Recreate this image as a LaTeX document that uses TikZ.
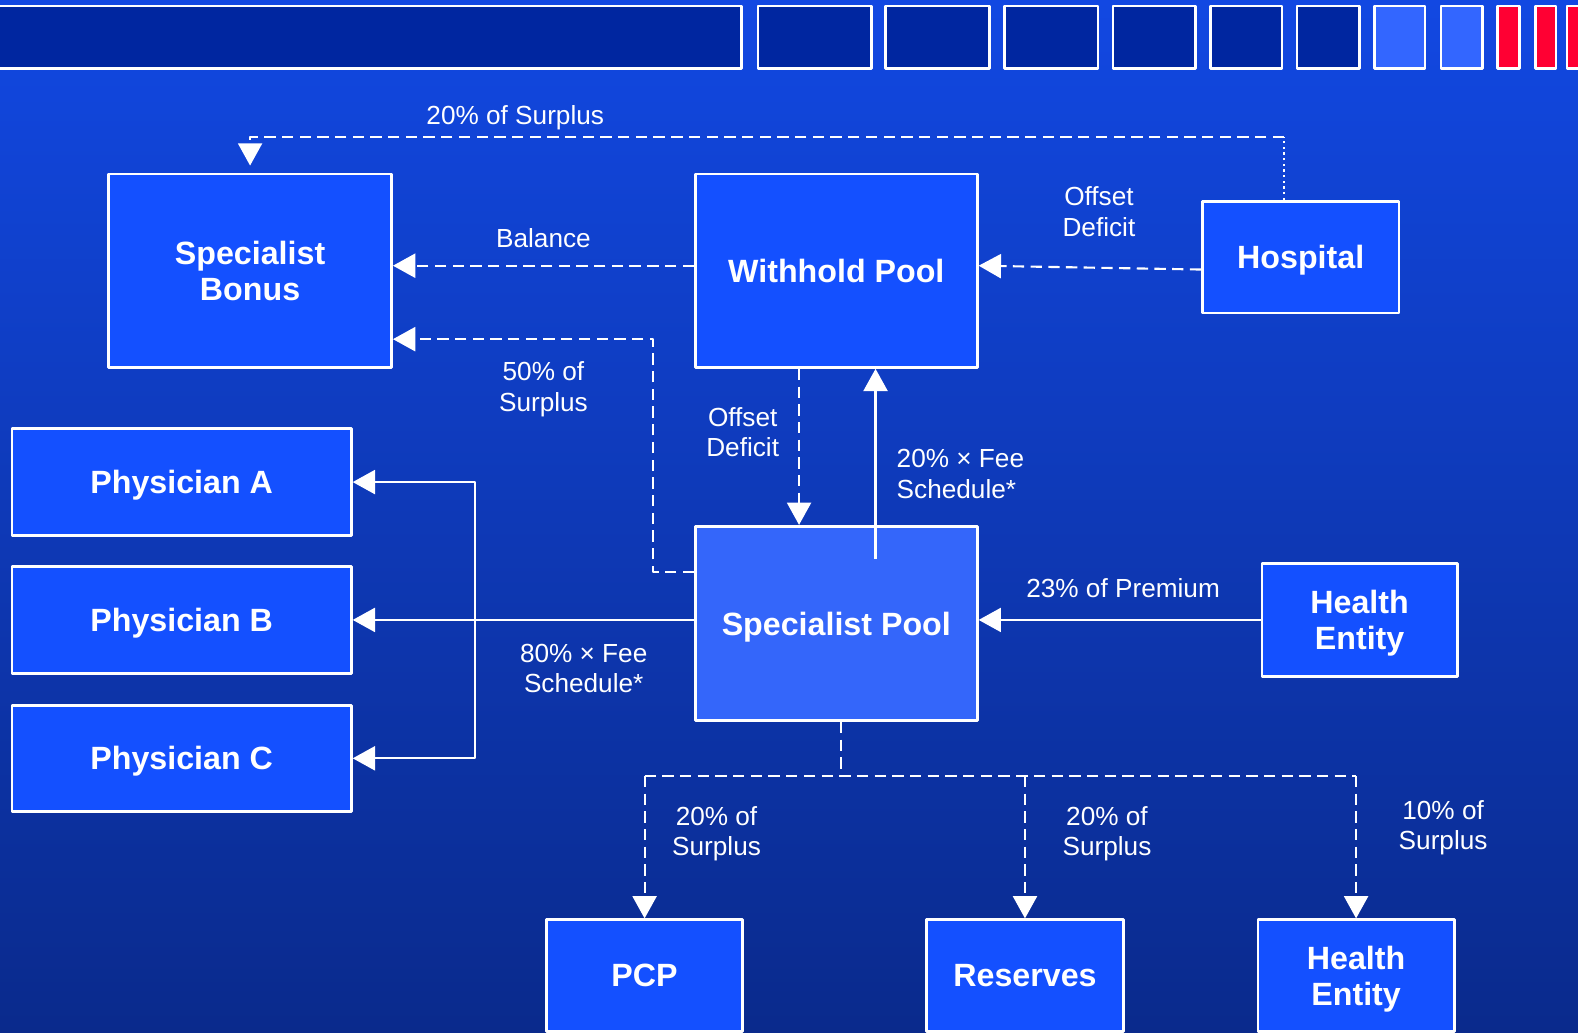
\documentclass[tikz,border=0pt]{standalone}
\usepackage{fontspec}
\setmainfont{Liberation Sans}
\usetikzlibrary{arrows.meta}
\definecolor{bgtop}{RGB}{18,72,226}
\definecolor{bgbot}{RGB}{10,42,140}
\definecolor{barblue}{RGB}{0,38,160}
\definecolor{barlight}{RGB}{51,102,255}
\definecolor{barred}{RGB}{255,0,51}
\definecolor{boxblue}{RGB}{20,80,255}
\definecolor{poolblue}{RGB}{52,102,250}
\begin{document}
\begin{tikzpicture}[x=0.01cm,y=-0.01cm,line join=round,line width=0.6pt,>={Triangle[length=6.3pt,width=6.8pt]},
  box/.style={draw=white,line width=0.8pt,fill=boxblue,text=white,align=center,inner sep=0pt,text depth=0pt,
    font=\fontsize{9.1}{10.3}\selectfont\bfseries},
  lbl/.style={text=white,align=center,inner sep=0pt,text depth=0pt,font=\fontsize{7.4}{8.6}\selectfont},
  flow/.style={->,draw=white},
  dashline/.style={draw=white,dash pattern=on 3.2pt off 1.8pt},
  dotline/.style={draw=white,dash pattern=on 0.6pt off 1pt}]
\clip (0,0) rectangle (1568,1026);
\shade[top color=bgtop,bottom color=bgbot] (0,0) rectangle (1568,1026);
\filldraw[draw=white,line width=0.7pt,fill=barblue](-5,6) rectangle (737,68);
\filldraw[draw=white,line width=0.7pt,fill=barblue](753,6) rectangle (866,68);
\filldraw[draw=white,line width=0.7pt,fill=barblue](880,6) rectangle (983,68);
\filldraw[draw=white,line width=0.7pt,fill=barblue](998,6) rectangle (1091,68);
\filldraw[draw=white,line width=0.7pt,fill=barblue](1106,6) rectangle (1188,68);
\filldraw[draw=white,line width=0.7pt,fill=barblue](1203,6) rectangle (1274,68);
\filldraw[draw=white,line width=0.7pt,fill=barblue](1289,6) rectangle (1351,68);
\filldraw[draw=white,line width=0.7pt,fill=barlight](1366,6) rectangle (1416,68);
\filldraw[draw=white,line width=0.7pt,fill=barlight](1432,6) rectangle (1473,68);
\filldraw[draw=white,line width=0.7pt,fill=barred](1488,6) rectangle (1510,68);
\filldraw[draw=white,line width=0.7pt,fill=barred](1526,6) rectangle (1546,68);
\filldraw[draw=white,line width=0.7pt,fill=barred](1557,6) rectangle (1575,68);

    \node[box,minimum width=2.81cm,minimum height=1.92cm] (bonus) at (248.5,269) {Specialist\\Bonus};
    \node[box,minimum width=2.80cm,minimum height=1.92cm] (wpool) at (831,269) {Withhold Pool};
    \node[box,minimum width=1.95cm,minimum height=1.11cm] (hosp)  at (1292.5,255.5) {Hospital};
    \node[box,minimum width=3.37cm,minimum height=1.06cm] (physA) at (180.5,479) {Physician A};
    \node[box,minimum width=3.37cm,minimum height=1.06cm] (physB) at (180.5,616) {Physician B};
    \node[box,minimum width=3.37cm,minimum height=1.05cm] (physC) at (180.5,753.5) {Physician C};
    \node[box,fill=poolblue,minimum width=2.80cm,minimum height=1.93cm] (pool) at (831,619.5) {Specialist Pool};
    \node[box,minimum width=1.94cm,minimum height=1.12cm] (hent)  at (1351,616) {Health\\Entity};
    \node[box,minimum width=1.95cm,minimum height=1.11cm] (pcp)   at (640.5,969.5) {PCP};
    \node[box,minimum width=1.95cm,minimum height=1.11cm] (res)   at (1018.5,969.5) {Reserves};
    \node[box,minimum width=1.95cm,minimum height=1.11cm] (hent2) at (1347.5,969.5) {Health\\Entity};

    \node[lbl] (lSurTop) at (512,114) {20\% of Surplus};
    \node[lbl] (lBal)    at (540,236) {Balance};
    \node[lbl] (lHosp)   at (1092,210) {Offset\\Deficit};
    \node[lbl] (lBon)    at (540,384) {50\% of\\Surplus};
    \node[lbl] (lWith)   at (738,429) {Offset\\Deficit};
    \node[lbl,align=left,anchor=west] (lUp) at (890,471) {20\% × Fee\\Schedule*};
    \node[lbl] (lPhys)   at (580,664) {80\% × Fee\\Schedule*};
    \node[lbl] (lPrem)   at (1116,584) {23\% of Premium};
    \node[lbl] (lPcp)    at (712,826) {20\% of\\Surplus};
    \node[lbl] (lRes)    at (1100,826) {20\% of\\Surplus};
    \node[lbl] (lHent)   at (1434,820) {10\% of\\Surplus};

    \coordinate (hTop)   at (1276,136);
    \coordinate (wMid)   at (831,264);
    \coordinate (spLow)  at (649,568);
    \coordinate (spHigh) at (649,337);
    \coordinate (wDown)  at (794,440);
    \coordinate (feeUp)  at (870,555);
    \coordinate (split)  at (472,616);
    \coordinate (bus)    at (836,771);

\draw[dotline](hosp.north -| hTop)--(hTop);
\draw[flow,dashline,shorten >=2pt](hTop)-|(bonus.north);
\draw[flow,dashline](wpool.west |- wMid)--(bonus.east |- wMid);
\draw[flow,dashline]([yshift=-3.5pt]hosp.west)--(wpool.east |- wMid);
\draw[flow,dashline](pool.west |- spLow)--(spLow)--(spHigh)--(bonus.east |- spHigh);
\draw[flow,dashline](wDown |- wpool.south)--(wDown |- pool.north);
\draw[flow](feeUp)--(feeUp |- wpool.south);
\draw[flow](pool.west |- split)--(physB.east);
\draw[<->,draw=white](physA.east)-|(split)|-(physC.east);
\draw[flow](hent.west)--(pool.east |- hent.west);
\draw[dashline](bus |- pool.south)--(bus);
\draw[dashline](pcp.north |- bus)--(hent2.north |- bus);
\draw[flow,dashline](pcp.north |- bus)--(pcp.north);
\draw[flow,dashline](res.north |- bus)--(res.north);
\draw[flow,dashline](hent2.north |- bus)--(hent2.north);
  \end{tikzpicture}
\end{document}
